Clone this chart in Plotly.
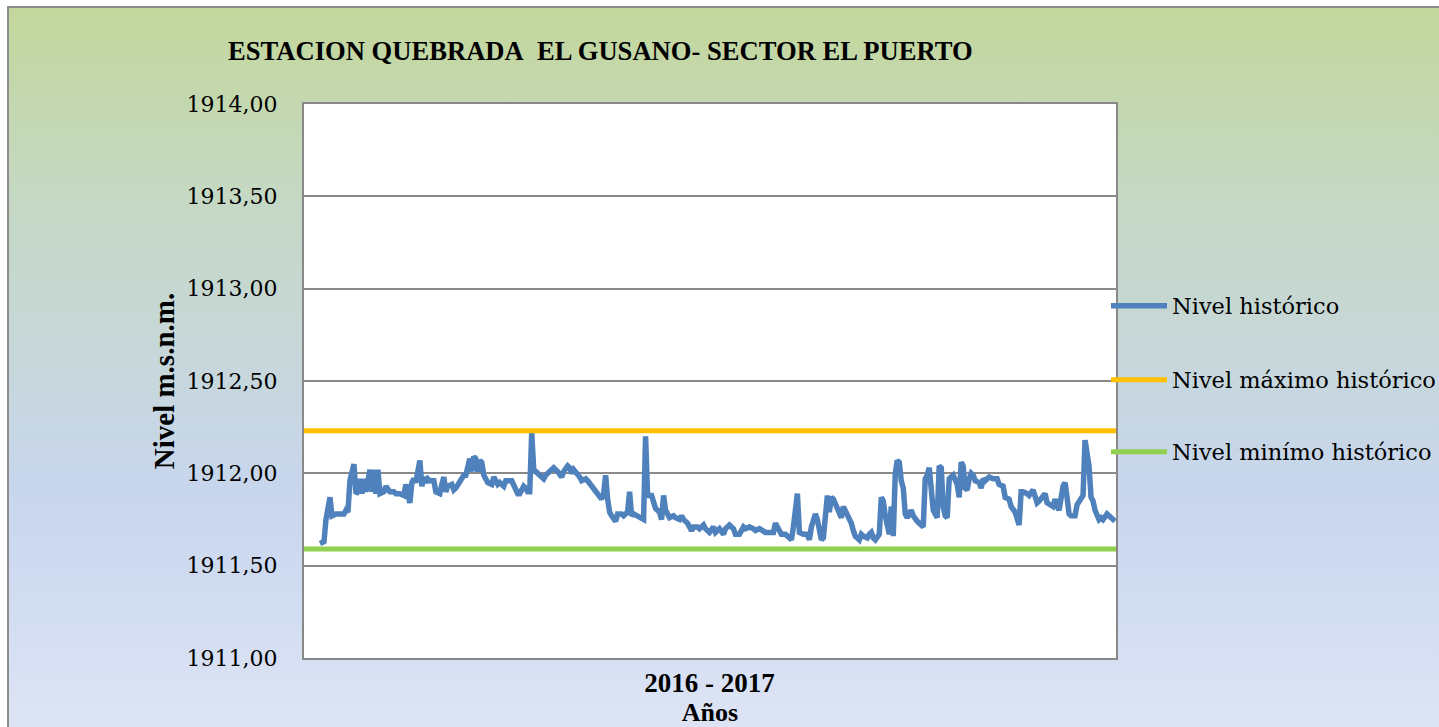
import base64
import plotly.graph_objects as go

# ---------------- data ----------------
dias = [1, 3, 4, 6, 7, 9, 11, 13, 14, 15, 16, 18, 19, 20, 21, 22, 23, 24, 26, 27,
        28, 29, 30, 31, 33, 34, 36, 38, 39, 41, 43, 44, 45, 46, 47, 48, 49, 51, 52, 53,
        54, 55, 56, 58, 59, 61, 62, 63, 64, 65, 67, 68, 69, 71, 73, 74, 76, 77, 78, 79,
        80, 81, 82, 83, 85, 87, 88, 90,
        91, 93, 94, 97, 98, 100, 101, 103, 104, 105, 106, 107, 108, 110, 112, 113, 114, 116, 117, 118,
        120, 121, 122, 123, 125, 126, 127, 128, 130, 131, 132, 134, 135, 137, 138, 140, 142, 143, 144, 145,
        146, 147, 149, 150, 152, 153, 155, 156, 157, 158, 160, 162, 163, 164, 165, 167, 168, 169, 171, 172,
        173, 174, 176, 178, 179, 181, 182, 183, 185, 186, 187, 188, 190,
        191, 193, 194, 196, 198, 199, 201, 203, 204, 206, 208, 209, 211, 213, 214, 216, 218, 219, 221, 223,
        224, 226, 228, 229, 231, 232, 234, 236, 237, 238, 240, 241, 242, 243, 245, 246, 247, 249, 250, 251,
        252, 253, 254, 255, 256, 257, 258, 260, 261, 262, 263, 264, 266, 267, 268, 269, 271, 272, 273, 275,
        276, 277, 278, 279, 281, 282, 283, 284, 286, 287, 288, 289, 290,
        291, 292, 293, 294, 295, 297, 298, 300, 302, 303, 304, 305, 306, 307, 308, 310, 311, 312, 313, 314,
        315, 316, 317, 318, 320, 321, 322, 323, 324, 325, 326, 327, 328, 329, 331, 332, 333, 334, 336, 337,
        338, 340, 341, 343, 344, 346, 347, 349, 350, 351, 352, 353, 355, 356, 358, 359, 360, 361, 363, 364,
        365, 366, 368, 369, 370, 371, 373, 374, 375, 376, 377, 379, 380, 382, 383, 384, 386, 387, 388, 389,
        391, 392, 393, 395, 396, 398, 399]

nivel_historico = [
    1911.62, 1911.63, 1911.75, 1911.87, 1911.77, 1911.78, 1911.78, 1911.78, 1911.80, 1911.79,
    1911.96, 1912.05, 1911.89, 1911.90, 1911.97, 1911.89, 1911.97, 1911.90, 1912.02, 1911.90,
    1912.02, 1911.89, 1912.02, 1911.89, 1911.90, 1911.93, 1911.90, 1911.90, 1911.89, 1911.89,
    1911.88, 1911.94, 1911.89, 1911.84, 1911.95, 1911.97, 1911.95, 1912.07, 1911.93, 1911.98,
    1911.95, 1911.97, 1911.96, 1911.96, 1911.90, 1911.89, 1911.94, 1911.98, 1911.90, 1911.93,
    1911.94, 1911.91, 1911.92, 1911.95, 1911.99, 1911.99, 1912.08, 1912.01, 1912.09, 1912.08,
    1912.01, 1912.07, 1912.06, 1911.99, 1911.95, 1911.94, 1911.98, 1911.94,
    1911.95, 1911.93, 1911.96, 1911.96, 1911.93, 1911.89, 1911.89, 1911.93, 1911.92, 1911.90,
    1911.90, 1912.22, 1912.02, 1912.00, 1911.99, 1911.97, 1911.99, 1912.01, 1912.02, 1912.03,
    1912.01, 1911.99, 1911.98, 1912.01, 1912.04, 1912.03, 1912.00, 1912.02, 1912.00, 1911.98,
    1911.96, 1911.97, 1911.96, 1911.93, 1911.91, 1911.88, 1911.86, 1911.89, 1911.99, 1911.86,
    1911.79, 1911.77, 1911.74, 1911.78, 1911.78, 1911.77, 1911.79, 1911.90, 1911.77, 1911.78,
    1911.77, 1911.76, 1911.75, 1912.20, 1911.88, 1911.88, 1911.83, 1911.81, 1911.79, 1911.75,
    1911.88, 1911.80, 1911.76, 1911.77, 1911.76, 1911.75, 1911.77, 1911.75, 1911.73, 1911.71,
    1911.69, 1911.71, 1911.71,
    1911.70, 1911.72, 1911.70, 1911.68, 1911.71, 1911.68, 1911.70, 1911.67, 1911.70, 1911.72,
    1911.70, 1911.67, 1911.67, 1911.71, 1911.70, 1911.71, 1911.70, 1911.69, 1911.70, 1911.69,
    1911.68, 1911.68, 1911.68, 1911.73, 1911.69, 1911.67, 1911.67, 1911.65, 1911.64, 1911.71,
    1911.89, 1911.68, 1911.67, 1911.67, 1911.67, 1911.64, 1911.71, 1911.78, 1911.75, 1911.67,
    1911.64, 1911.65, 1911.78, 1911.88, 1911.79, 1911.87, 1911.86, 1911.81, 1911.80, 1911.76,
    1911.82, 1911.80, 1911.76, 1911.73, 1911.69, 1911.66, 1911.64, 1911.67, 1911.66, 1911.65,
    1911.67, 1911.68, 1911.65, 1911.64, 1911.67, 1911.87, 1911.85, 1911.77, 1911.67, 1911.82,
    1911.66, 1912.00, 1912.07,
    1912.06, 1911.96, 1911.92, 1911.78, 1911.76, 1911.80, 1911.77, 1911.74, 1911.72, 1911.71,
    1911.97, 1911.99, 1912.03, 1911.93, 1911.80, 1911.76, 1912.04, 1912.03, 1911.82, 1911.77,
    1911.76, 1911.97, 1911.98, 1911.99, 1911.94, 1911.87, 1912.06, 1912.04, 1911.92, 1911.91,
    1911.97, 1912.00, 1911.99, 1911.96, 1911.95, 1911.92, 1911.97, 1911.96, 1911.98, 1911.97,
    1911.97, 1911.97, 1911.94, 1911.93, 1911.87, 1911.86, 1911.82, 1911.79, 1911.76, 1911.72,
    1911.90, 1911.90, 1911.89, 1911.88, 1911.91, 1911.86, 1911.84, 1911.85, 1911.87, 1911.89,
    1911.84, 1911.83, 1911.82, 1911.86, 1911.82, 1911.80, 1911.93, 1911.95, 1911.87, 1911.78,
    1911.77, 1911.77, 1911.83, 1911.86, 1911.88, 1912.18, 1912.04, 1911.87, 1911.85, 1911.80,
    1911.75, 1911.76, 1911.75, 1911.78, 1911.77, 1911.75, 1911.74]

limite_dias = [-7, 399.5]
nivel_maximo = 1912.23
nivel_minimo = 1911.59

titulo = "ESTACION QUEBRADA\u00a0\u00a0EL GUSANO- SECTOR EL PUERTO"
etiqueta_x = "2016 - 2017"
eje_x = "Años"
eje_y = "Nivel m.s.n.m."
series = ["Nivel histórico", "Nivel máximo histórico", "Nivel minímo histórico"]

# ---------------- layout constants ----------------
W, H = 1439, 727
PX0, PX1, PY0, PY1 = 304, 1116, 104, 658   # plot area in pixels
L, T, R, B = PX0, PY0, W - PX1, H - PY1
PW, PH = PX1 - PX0, PY1 - PY0


def px_x(p):
    return (p - PX0) / PW


def px_y(p):
    return (PY1 - p) / PH


BLUE, ORANGE, GREEN = "#4f81bd", "#ffc000", "#92d050"
SERIF = "DejaVu Serif"
SERIF_B = "Liberation Serif"

fig = go.Figure()
fig.add_trace(go.Scatter(x=dias, y=nivel_historico, mode="lines", name=series[0],
                         line=dict(color=BLUE, width=5.5), legend="legend", showlegend=True))
fig.add_trace(go.Scatter(x=limite_dias, y=[nivel_maximo] * len(limite_dias), mode="lines",
                         name=series[1], line=dict(color=ORANGE, width=5), legend="legend2",
                         showlegend=True))
fig.add_trace(go.Scatter(x=limite_dias, y=[nivel_minimo] * len(limite_dias), mode="lines",
                         name=series[2], line=dict(color=GREEN, width=5), legend="legend3",
                         showlegend=True))

# gradient background (svg image)
svg = (
    '<svg xmlns="http://www.w3.org/2000/svg" width="100" height="100" preserveAspectRatio="none">'
    '<defs><linearGradient id="g" x1="0" y1="0" x2="0" y2="1">'
    '<stop offset="0" stop-color="#c3d79c"/>'
    '<stop offset="0.27" stop-color="#c5d8c4"/>'
    '<stop offset="0.68" stop-color="#c8d6ee"/>'
    '<stop offset="1" stop-color="#dde4f5"/>'
    '</linearGradient></defs>'
    '<rect x="0" y="0" width="100" height="100" fill="url(#g)"/></svg>'
)
uri = "data:image/svg+xml;base64," + base64.b64encode(svg.encode()).decode()
bx0, by0 = 8, 7
fig.add_layout_image(dict(source=uri, xref="paper", yref="paper",
                          x=px_x(bx0), y=px_y(by0),
                          sizex=(W - bx0) / PW, sizey=(H - by0) / PH,
                          xanchor="left", yanchor="top", sizing="stretch", layer="below"))
# outer border
fig.add_shape(type="rect", xref="paper", yref="paper", x0=px_x(bx0), x1=px_x(W + 5),
              y0=px_y(H + 5), y1=px_y(by0), line=dict(color="#8c8c8c", width=2),
              fillcolor="rgba(0,0,0,0)", layer="below")
# white plot area
fig.add_shape(type="rect", xref="paper", yref="paper", x0=0, x1=1, y0=0, y1=1,
              fillcolor="white", line=dict(width=0), layer="below")

leg_common = dict(xanchor="left", yanchor="middle", bgcolor="rgba(0,0,0,0)",
                  font=dict(family=SERIF, size=22.5, color="black"), itemwidth=56)
leg_x = px_x(1106)

fig.update_layout(
    width=W, height=H,
    margin=dict(l=L, r=R, t=T, b=B, autoexpand=False),
    paper_bgcolor="white",
    plot_bgcolor="white",
    separators=",.",
    showlegend=True,
    title=dict(text=titulo, x=228 / W, xanchor="left", xref="container",
               y=1 - 51 / H, yanchor="middle", yref="container",
               font=dict(family=SERIF_B, size=26.6, color="black", weight="bold")),
    legend=dict(x=leg_x, y=px_y(306), **leg_common),
    legend2=dict(x=leg_x, y=px_y(380), **leg_common),
    legend3=dict(x=leg_x, y=px_y(452), **leg_common),
    xaxis=dict(range=limite_dias, showgrid=False, zeroline=False, automargin=False,
               tickmode="array", tickvals=[196], ticktext=[etiqueta_x], ticks="",
               tickfont=dict(family=SERIF_B, size=27, color="black", weight="bold"),
               showline=True, linecolor="#898989", linewidth=2, mirror=True,
               title=dict(text=eje_x, standoff=1,
                          font=dict(family=SERIF_B, size=26, color="black", weight="bold"))),
    yaxis=dict(range=[1911, 1914], dtick=0.5, tick0=1911, tickformat=".2f", automargin=False,
               showgrid=True, gridcolor="#8a8a8a", gridwidth=1.5, zeroline=False,
               showline=True, linecolor="#898989", linewidth=2, mirror=True,
               ticks="", ticklabelstandoff=20,
               tickfont=dict(family=SERIF, size=22, color="black"),
               title=dict(text=eje_y, standoff=3,
                          font=dict(family=SERIF_B, size=29, color="black", weight="bold"))),
)

fig.write_html(
    "out.html",
    config={"displayModeBar": False},
    post_script="document.body.style.margin='0px';document.body.style.overflow='hidden';",
)
